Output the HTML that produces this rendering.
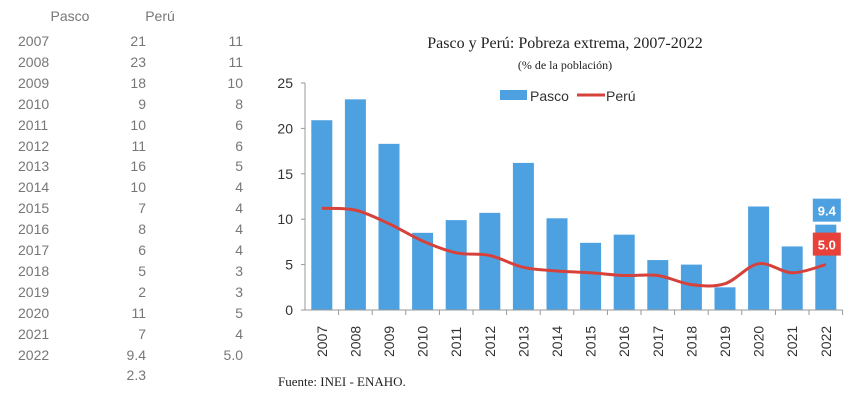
<!DOCTYPE html>
<html><head><meta charset="utf-8"><style>
body{margin:0;width:857px;height:409px;background:#fff;overflow:hidden;font-family:"Liberation Sans",sans-serif}
.t{position:absolute;color:#777;font-size:14px}
</style></head><body>
<div id="tbl"></div>
<svg id="c" width="857" height="409" style="position:absolute;left:0;top:0"></svg>
<script>
const years=["2007","2008","2009","2010","2011","2012","2013","2014","2015","2016","2017","2018","2019","2020","2021","2022"];
const pasco=[20.9,23.2,18.3,8.5,9.9,10.7,16.2,10.1,7.4,8.3,5.5,5.0,2.5,11.4,7.0,9.4];
const peru=[11.2,11.0,9.5,7.6,6.3,6.0,4.7,4.3,4.1,3.8,3.8,2.8,2.9,5.1,4.1,5.0];
const tablePasco=["21","23","18","9","10","11","16","10","7","8","6","5","2","11","7","9.4"];
const tablePeru=["11","11","10","8","6","6","5","4","4","4","4","3","3","5","4","5.0"];
const yTicks=[0,5,10,15,20,25];
const NS="http://www.w3.org/2000/svg";
const tbl=document.getElementById('tbl');
function div(txt,x,y,w,align,name){const d=document.createElement('div');d.className='t';d.textContent=txt;d.style.left=x+'px';d.style.top=y+'px';d.style.width=w+'px';d.style.textAlign=align;


tbl.appendChild(d);}
div("Pasco",40,8,60,"center","table-header-pasco");
div("Perú",130,8,60,"center","table-header-peru");
years.forEach((y,i)=>{const ty=33+i*20.9;div(y,18,ty,50,"left","table-year");div(tablePasco[i],96,ty,50,"right","table-pasco-value");div(tablePeru[i],193,ty,50,"right","table-peru-value");});
div("2.3",96,33+16*20.9,50,"right","table-extra-value");
const svg=document.getElementById('c');
function el(t,a,name){const e=document.createElementNS(NS,t);for(const k in a)e.setAttribute(k,a[k]);


svg.appendChild(e);return e;}
const x0=305,cw=33.6,y0=310,ys=(310-83)/25;
const X=i=>x0+cw*(i+0.5),Y=v=>y0-v*ys;
el('text',{x:565,y:48,'text-anchor':'middle','font-family':'Liberation Serif,serif','font-size':16,fill:'#222'},'chart-title').textContent="Pasco y Perú: Pobreza extrema, 2007-2022";
el('text',{x:565,y:69,'text-anchor':'middle','font-family':'Liberation Serif,serif','font-size':12,fill:'#222'},'chart-subtitle').textContent="(% de la población)";
yTicks.forEach(t=>{el('text',{x:293,y:Y(t)+5,'text-anchor':'end','font-size':14,fill:'#333'},'y-tick-label').textContent=t;
el('line',{x1:301,x2:305,y1:Y(t),y2:Y(t),stroke:'#999'},'y-tick');});
el('line',{x1:305,x2:305,y1:Y(25),y2:y0,stroke:'#999'},'y-axis');
pasco.forEach((v,i)=>el('rect',{x:X(i)-10.5,y:Y(v),width:21,height:v*ys,fill:'#4ea1e0'},'bar-pasco-'+years[i]));
el('line',{x1:305,x2:x0+cw*16,y1:y0,y2:y0,stroke:'#999'},'x-axis');
years.forEach((y,i)=>{el('line',{x1:x0+cw*(i+1),x2:x0+cw*(i+1),y1:y0,y2:y0+5,stroke:'#999'},'x-tick');
el('text',{transform:`translate(${X(i)+5},${y0+47}) rotate(-90)`,'font-size':14,fill:'#333'},'x-tick-label').textContent=y;});
// smooth line
const P=peru.map((v,i)=>[X(i),Y(v)]);let d=`M${P[0][0]},${P[0][1]}`;
for(let i=0;i<P.length-1;i++){const p0=P[Math.max(i-1,0)],p1=P[i],p2=P[i+1],p3=P[Math.min(i+2,P.length-1)];
d+=` C${p1[0]+(p2[0]-p0[0])/6},${p1[1]+(p2[1]-p0[1])/6} ${p2[0]-(p3[0]-p1[0])/6},${p2[1]-(p3[1]-p1[1])/6} ${p2[0]},${p2[1]}`;}
el('path',{d:d,fill:'none',stroke:'#d6423b','stroke-width':3},'line-peru');
// labels
const li=15;
el('rect',{x:X(li)-13,y:Y(pasco[li])-26,width:28,height:23,fill:'#4ea1e0'},'label-bg-pasco');
el('text',{x:X(li)+1,y:Y(pasco[li])-9,'text-anchor':'middle','font-size':13,'font-weight':'bold',fill:'#fff'},'label-pasco-2022').textContent=pasco[li].toFixed(1);
el('rect',{x:X(li)-13,y:Y(peru[li])-32,width:28,height:23,fill:'#e8413a'},'label-bg-peru');
el('text',{x:X(li)+1,y:Y(peru[li])-15,'text-anchor':'middle','font-size':13,'font-weight':'bold',fill:'#fff'},'label-peru-2022').textContent=peru[li].toFixed(1);
// legend
el('rect',{x:500,y:90,width:27,height:10,fill:'#4ea1e0'},'legend-swatch-pasco');
el('text',{x:530,y:101,'font-size':14,fill:'#333'},'legend-label-pasco').textContent="Pasco";
el('line',{x1:577,x2:605,y1:95,y2:95,stroke:'#d6423b','stroke-width':3},'legend-swatch-peru');
el('text',{x:606,y:101,'font-size':14,fill:'#333'},'legend-label-peru').textContent="Perú";
el('text',{x:278,y:386,'font-family':'Liberation Serif,serif','font-size':13,fill:'#222'},'source-note').textContent="Fuente: INEI - ENAHO.";
</script>
</body></html>
